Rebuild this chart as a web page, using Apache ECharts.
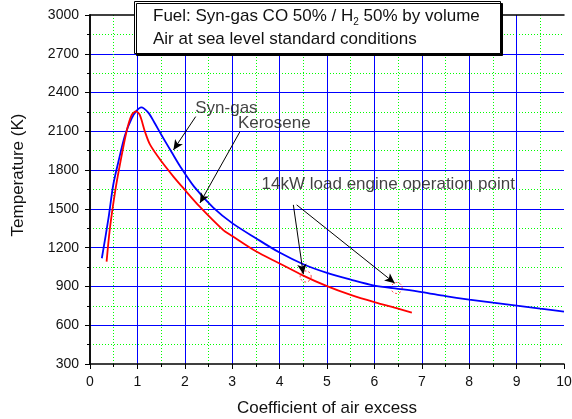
<!DOCTYPE html>
<html>
<head>
<meta charset="utf-8">
<script src="https://cdn.jsdelivr.net/npm/echarts@6/dist/echarts.min.js"></script>
<style>
  html, body { margin: 0; padding: 0; background: #fff; }
  #chart { width: 572px; height: 419px; }
</style>
</head>
<body>
<div id="chart"></div>
<script>
// syn-gas (blue)
const synX = [0.25, 0.39, 0.49, 0.6, 0.74, 0.88, 0.98, 1.08, 1.23, 1.37, 1.51, 1.72, 1.9, 2.2, 2.6, 3.0, 3.5, 4.0, 4.5, 5.0, 5.5, 6.0, 6.5, 7.0, 7.5, 8.0, 8.5, 9.0, 9.5, 10]
const synY = [1118, 1428, 1685, 1866, 2072, 2201, 2258, 2286, 2245, 2160, 2070, 1940, 1830, 1670, 1510, 1390, 1273, 1162, 1072, 1005, 953, 907, 882, 856, 825, 798, 774, 752, 728, 705]
// kerosene (red)
const kerX = [0.35, 0.42, 0.53, 0.63, 0.77, 0.88, 0.97, 1.05, 1.16, 1.27, 1.51, 1.76, 1.97, 2.32, 2.8, 3.0, 3.5, 4.0, 4.5, 5.0, 5.5, 6.0, 6.5, 6.79]
const kerY = [1092, 1350, 1634, 1840, 2097, 2227, 2255, 2227, 2097, 1995, 1866, 1750, 1660, 1515, 1340, 1290, 1172, 1078, 984, 902, 834, 778, 728, 698]

// operation points (dashed circles)
const opPoints = [[4.55, 977], [6.47, 888]]

// annotation texts: [x, y, text]
const notes = [
  [2.22, 2281, 'Syn-gas'],
  [3.12, 2165, 'Kerosene'],
  [3.62, 1693, '14kW load engine operation point']
]
// arrows: [from, to]
const arrows = [
  [[2.23, 2214], [1.76, 1956]],
  [[3.16, 2095], [2.32, 1546]],
  [[4.29, 1531], [4.5, 995]],
  [[4.36, 1531], [6.43, 925]]
]

const chart = echarts.init(document.getElementById('chart'))
const font = 'Arial, "Liberation Sans", sans-serif'

const option = {
  animation: false,
  textStyle: { fontFamily: font },
  grid: { left: 90, right: 8, top: 15, bottom: 55, containLabel: false, outerBoundsMode: 'none' },
  xAxis: [
    {
      type: 'value', min: 0, max: 10, interval: 1,
      name: 'Coefficient of air excess',
      nameLocation: 'middle', nameGap: 36,
      nameTextStyle: { fontSize: 17, color: '#111', fontFamily: font },
      axisLine: { lineStyle: { color: '#000', width: 1.5 } },
      axisTick: { inside: false, length: 5, lineStyle: { color: '#000' } },
      minorTick: { show: true, splitNumber: 2, length: 3, lineStyle: { color: '#000' } },
      axisLabel: { fontSize: 14, color: '#111', margin: 11, fontFamily: font, formatter: v => String(v) },
      splitLine: { show: true, showMinLine: false, showMaxLine: false, lineStyle: { color: '#0000ff', width: 1 } },
      minorSplitLine: { show: true, lineStyle: { color: '#00ff00', type: [1, 2], width: 1 } }
    },
    {
      type: 'value', min: 0, max: 10, position: 'top',
      axisLine: { lineStyle: { color: '#000', width: 1.5 } },
      axisTick: { show: false }, axisLabel: { show: false }, splitLine: { show: false }
    }
  ],
  yAxis: [
    {
      type: 'value', min: 300, max: 3000, interval: 300,
      axisLine: { show: true, lineStyle: { color: '#000', width: 1.5 } },
      axisTick: { show: true, length: 5, lineStyle: { color: '#000' } },
      minorTick: { show: true, splitNumber: 2, length: 3, lineStyle: { color: '#000' } },
      axisLabel: { fontSize: 14, color: '#111', margin: 11, fontFamily: font, formatter: v => String(v) },
      splitLine: { show: true, showMinLine: false, showMaxLine: false, lineStyle: { color: '#0000ff', width: 1 } },
      minorSplitLine: { show: true, lineStyle: { color: '#00ff00', type: [1, 2], width: 1 } }
    },
    {
      type: 'value', min: 300, max: 3000, position: 'right',
      axisLine: { show: true, lineStyle: { color: '#000', width: 1.5 } },
      axisTick: { show: false }, axisLabel: { show: false }, splitLine: { show: false }
    }
  ],
  series: [
    {
      name: 'Syn-gas',
      type: 'line',
      smooth: 0.3,
      showSymbol: false,
      lineStyle: { color: '#0000ff', width: 1.8 },
      data: synX.map((x, i) => [x, synY[i]]),
      markLine: {
        silent: true,
        symbol: ['none', 'arrow'],
        symbolSize: [7, 10],
        label: { show: false },
        lineStyle: { color: '#000', width: 1, type: 'solid' },
        data: arrows.map(a => [{ coord: a[0] }, { coord: a[1] }])
      }
    },
    {
      name: 'Kerosene',
      type: 'line',
      smooth: 0.3,
      showSymbol: false,
      lineStyle: { color: '#ff0000', width: 1.8 },
      data: kerX.map((x, i) => [x, kerY[i]])
    },
    {
      name: 'points',
      type: 'scatter',
      symbol: 'circle',
      symbolSize: 11,
      silent: true,
      itemStyle: { color: 'rgba(0,0,0,0)', borderColor: '#ff0000', borderWidth: 1, borderType: [2, 2] },
      data: opPoints
    },
    {
      name: 'notes',
      type: 'scatter',
      symbolSize: 0,
      silent: true,
      label: {
        show: true, position: 'right', distance: 0,
        fontSize: 17, color: '#111', fontFamily: font,
        formatter: p => p.value[2]
      },
      data: notes
    }
  ],
  graphic: [
    {
      type: 'text',
      x: 18, y: 175,
      rotation: Math.PI / 2,
      style: {
        text: 'Temperature (K)',
        fontSize: 17, fontFamily: font, fill: '#111',
        align: 'center', verticalAlign: 'middle'
      }
    },
    {
      type: 'rect',
      left: 134, top: 1,
      shape: { width: 366, height: 52 },
      style: { fill: '#fff', stroke: '#000', lineWidth: 1, shadowColor: '#000', shadowOffsetX: 2, shadowOffsetY: 2, shadowBlur: 0 },
      z: 100
    },
    {
      type: 'text',
      left: 153, top: 5,
      style: {
        text: '{a|Fuel: Syn-gas CO 50% / H}{s|2}{a| 50% by volume}\n{a|Air at sea level standard conditions}',
        rich: {
          a: { fontSize: 17, fontFamily: font, fill: '#111', lineHeight: 23 },
          s: { fontSize: 10, fontFamily: font, fill: '#111', padding: [12, 0, 0, 0], lineHeight: 23 }
        }
      },
      z: 101
    }
  ]
}

chart.setOption(option)
</script>
</body>
</html>
